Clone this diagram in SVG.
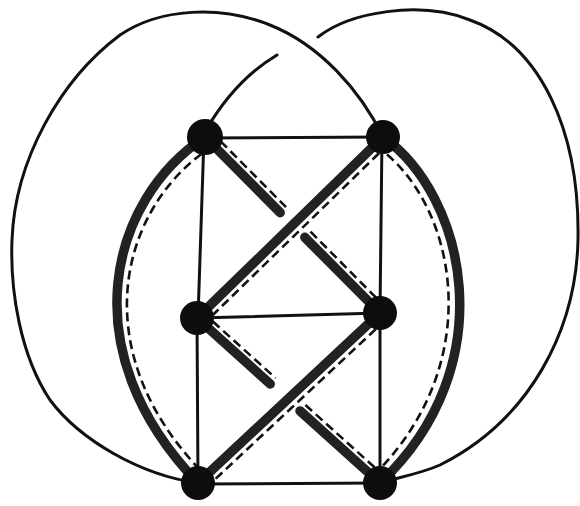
<svg xmlns="http://www.w3.org/2000/svg" width="580" height="506" viewBox="0 0 580 506">
<style>
.thin{fill:none;stroke:#111;stroke-width:3;stroke-linecap:round}
.thick{fill:none;stroke:#222;stroke-width:9.5;stroke-linecap:round}
.dash{fill:none;stroke:#111;stroke-width:2.6;stroke-dasharray:9 5}
.node{fill:#0d0d0d}
</style>
<rect width="580" height="506" fill="#fff"/>
<g id="connectors">
<path class="thin" d="M198 483 C140 475 80 440 50 400 C20 355 10 290 12 240 C15 160 60 80 120 35 C160 8 220 5 270 25 C320 45 360 90 383 137"/>
<path class="thin" d="M318 37 C350 12 420 0 470 20 C540 45 580 130 578 240 C576 330 530 420 440 465 C420 474 395 478 380 483"/>
<path class="thin" d="M277 55 Q235 80 206 130"/>
<path class="thin" d="M205 138 L383 137"/>
<path class="thin" d="M204 137 L198 318"/>
<path class="thin" d="M382 137 L380 313"/>
<path class="thin" d="M197 318 L380 313"/>
<path class="thin" d="M197 318 L198 483"/>
<path class="thin" d="M380 313 L380 483"/>
<path class="thin" d="M198 484 L380 483"/>
<path class="thick" d="M205 137 C110 200 70 350 198 483"/>
<path class="dash" d="M213 146 C120 205 82 350 204 474"/>
<path class="thick" d="M383 137 C465 195 505 365 380 483"/>
<path class="dash" d="M376 146 C455 200 490 360 374 475"/>
<path class="thick" d="M383 137 L197 318"/>
<path class="dash" d="M389 143.5 L203 324.5"/>
<path class="thick" d="M380 313 L198 483"/>
<path class="dash" d="M386 319.6 L204 489.6"/>
<path class="thick" d="M205 137 L280.2 212.7"/>
<path class="dash" d="M210.7 131.4 L286 207.1"/>
<path class="thick" d="M304.8 237.3 L380 313"/>
<path class="dash" d="M310.5 231.7 L385.7 307.4"/>
<path class="thick" d="M197 318 L270.2 384"/>
<path class="dash" d="M202.4 312.1 L275.6 378.1"/>
<path class="thick" d="M300 410.9 L380 483"/>
<path class="dash" d="M305.4 405 L385.4 477.1"/>
</g>
<g id="node-tl"><circle class="node" cx="205" cy="137" r="18"/></g>
<g id="node-tr"><circle class="node" cx="383" cy="137" r="17"/></g>
<g id="node-ml"><circle class="node" cx="197" cy="318" r="17"/></g>
<g id="node-mr"><circle class="node" cx="380" cy="313" r="17"/></g>
<g id="node-bl"><circle class="node" cx="198" cy="483" r="17"/></g>
<g id="node-br"><circle class="node" cx="380" cy="483" r="17"/></g>
</svg>
